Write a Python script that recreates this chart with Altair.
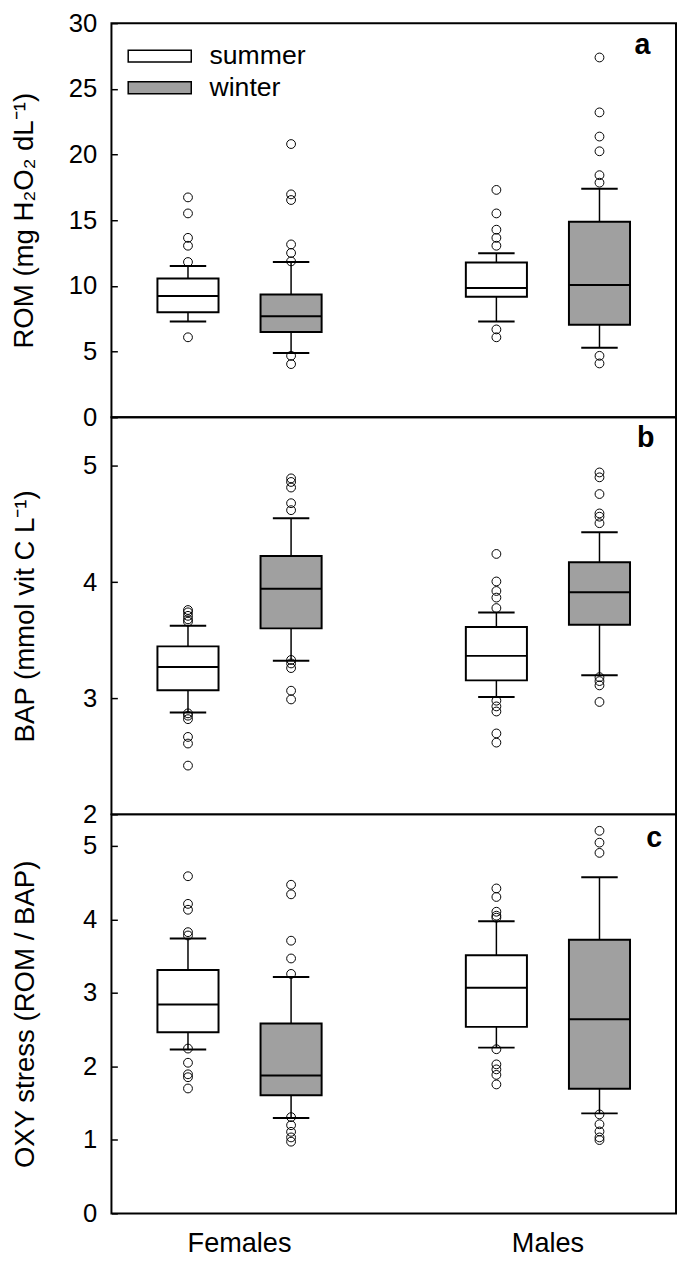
import altair as alt
import pandas as pd

FONT = "Liberation Sans"

sexes = ["Females", "Males"]
seasons = ["summer", "winter"]
group_sex = ["Females", "Females", "Males", "Males"]
group_season = ["summer", "winter", "summer", "winter"]

# ---- ROM (panel a) ----
rom_q1 = [7.99, 6.49, 9.18, 7.04]
rom_med = [9.23, 7.69, 9.85, 10.07]
rom_q3 = [10.57, 9.35, 11.79, 14.88]
rom_lo = [7.29, 4.90, 7.29, 5.30]
rom_hi = [11.52, 11.82, 12.49, 17.39]
rom_out = [
    [16.74, 15.52, 13.66, 13.06, 11.82, 6.09],
    [20.8, 16.97, 16.54, 13.16, 12.51, 11.87, 4.68, 4.05],
    [17.31, 15.52, 14.28, 13.66, 13.06, 6.69, 6.09],
    [27.39, 23.21, 21.37, 20.25, 18.43, 17.86, 4.68, 4.10],
]

# ---- BAP (panel b) ----
bap_q1 = [3.069, 3.602, 3.154, 3.633]
bap_med = [3.269, 3.944, 3.365, 3.913]
bap_q3 = [3.447, 4.226, 3.614, 4.172]
bap_lo = [2.877, 3.323, 3.01, 3.199]
bap_hi = [3.625, 4.55, 3.738, 4.429]
bap_out = [
    [3.76, 3.74, 3.71, 3.68, 3.66, 2.87, 2.85, 2.82, 2.667, 2.61, 2.42],
    [4.894, 4.863, 4.815, 4.68, 4.62, 3.33, 3.30, 3.26, 3.065, 2.99],
    [4.243, 4.006, 3.924, 3.867, 3.777, 2.979, 2.93, 2.886, 2.697, 2.618],
    [4.945, 4.903, 4.759, 4.592, 4.564, 4.508, 3.182, 3.148, 3.111, 2.968],
]

# ---- OXY stress (panel c) ----
oxy_q1 = [2.466, 1.607, 2.538, 1.697]
oxy_med = [2.842, 1.876, 3.071, 2.641]
oxy_q3 = [3.312, 2.583, 3.514, 3.724]
oxy_lo = [2.229, 1.298, 2.256, 1.361]
oxy_hi = [3.742, 3.218, 3.975, 4.575]
oxy_out = [
    [4.588, 4.212, 4.132, 3.827, 3.782, 2.243, 2.05, 1.893, 1.853, 1.70],
    [4.472, 4.342, 3.711, 3.469, 3.259, 1.31, 1.20, 1.11, 1.034, 0.976],
    [4.422, 4.306, 4.105, 4.051, 4.024, 2.234, 2.028, 1.96, 1.885, 1.755],
    [5.206, 5.045, 4.906, 1.347, 1.213, 1.115, 1.034, 0.998],
]


def box_frame(q1, med, q3, lo, hi):
    return pd.DataFrame({"sex": group_sex, "season": group_season,
                         "q1": q1, "med": med, "q3": q3, "lo": lo, "hi": hi})


def out_frame(outs):
    rows = []
    for sx, ss, vals in zip(group_sex, group_season, outs):
        for v in vals:
            rows.append({"sex": sx, "season": ss, "value": v})
    return pd.DataFrame(rows)


W = 573


def panel(box, out, domain, ticks, title, title_pad, letter, letter_x, letter_y, height,
          bottom=False, legend=False):
    if bottom:
        xaxis = alt.Axis(title=None, labelFontSize=27.5, labelPadding=17, ticks=False,
                         domain=False, labelAngle=0, labelFont=FONT, labelColor="black")
    else:
        xaxis = None
    x = alt.X("sex:N", scale=alt.Scale(domain=sexes, paddingInner=0.3, paddingOuter=0.0653),
              axis=xaxis)
    xo = alt.XOffset("season:N", scale=alt.Scale(domain=seasons, paddingInner=0,
                                                 paddingOuter=0.047))
    yscale = alt.Scale(domain=domain, nice=False, zero=False)
    yaxis = alt.Axis(values=ticks, title=title, offset=-6, tickSize=6, tickWidth=1.5,
                     tickColor="black", domain=False, grid=False, labelPadding=15,
                     labelFontSize=26, labelFont=FONT, labelColor="black",
                     titleFontSize=28, titleFont=FONT, titleFontWeight="normal",
                     titleColor="black", titlePadding=title_pad)

    def Y(field):
        return alt.Y(field, scale=yscale, axis=yaxis)

    base = alt.Chart(box)
    whisk = base.mark_rule(color="black", strokeWidth=1.5).encode(
        x=x, xOffset=xo, y=Y("lo:Q"), y2="hi:Q")
    if legend:
        leg = alt.Legend(title=None, orient="none", legendX=35.5, legendY=20,
                         labelFontSize=27, labelFont=FONT, labelColor="black",
                         symbolType="M-5,-0.9375H5V0.9375H-5Z", symbolSize=163.84,
                         symbolStrokeColor="black", symbolStrokeWidth=1.5,
                         labelOffset=37, rowPadding=4, padding=0)
    else:
        leg = None
    bars = base.mark_bar(size=62, stroke="black", strokeWidth=2).encode(
        x=x, xOffset=xo, y=Y("q1:Q"), y2="q3:Q",
        fill=alt.Fill("season:N", scale=alt.Scale(domain=seasons, range=["white", "#a0a0a0"]),
                      legend=leg))
    med = base.mark_tick(color="black", size=62, thickness=2, opacity=1).encode(
        x=x, xOffset=xo, y=Y("med:Q"))
    caps = base.transform_fold(["lo", "hi"], as_=["end", "cap"]).mark_tick(
        color="black", size=37, thickness=2, opacity=1).encode(x=x, xOffset=xo, y=Y("cap:Q"))
    pts = alt.Chart(out).mark_point(shape="circle", filled=False, size=80, color="black",
                                    strokeWidth=1, opacity=1).encode(
        x=x, xOffset=xo, y=Y("value:Q"))
    lab = alt.Chart(pd.DataFrame({"t": [letter]})).mark_text(
        fontWeight="bold", fontSize=29, align="right", baseline="alphabetic", font=FONT,
        color="black").encode(text="t:N", x=alt.value(letter_x), y=alt.value(letter_y))
    return alt.layer(whisk, bars, med, caps, pts, lab).properties(width=W, height=height)


pa = panel(box_frame(rom_q1, rom_med, rom_q3, rom_lo, rom_hi), out_frame(rom_out),
           [0, 30], [0, 5, 10, 15, 20, 25, 30], "ROM (mg H₂O₂ dL⁻¹)", 30, "a",
           W - 26, 31, 400, legend=True)
pb = panel(box_frame(bap_q1, bap_med, bap_q3, bap_lo, bap_hi), out_frame(bap_out),
           [2, 5.42], [2, 3, 4, 5], "BAP (mmol vit C L⁻¹)", 43.5, "b",
           W - 22, 30, 403)
pc = panel(box_frame(oxy_q1, oxy_med, oxy_q3, oxy_lo, oxy_hi), out_frame(oxy_out),
           [0, 5.43], [0, 1, 2, 3, 4, 5], "OXY stress (ROM / BAP)", 43.5, "c",
           W - 14, 33, 405, bottom=True)

chart = alt.vconcat(pa, pb, pc, spacing=0, bounds="flush").resolve_scale(
    y="independent", fill="independent").resolve_legend(fill="independent").properties(
    padding={"left": 2, "top": -8, "right": 0, "bottom": 0}
).configure(font=FONT).configure_view(stroke="black", strokeWidth=2)

chart.save("out.html", embed_options={"renderer": "svg", "actions": False})
